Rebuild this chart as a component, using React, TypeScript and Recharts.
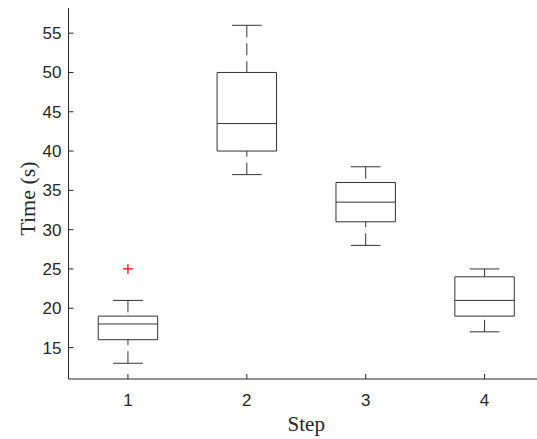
import React from 'react';
import {
  ComposedChart,
  XAxis,
  YAxis,
  Scatter,
  ReferenceArea,
  ReferenceLine,
} from 'recharts';

const steps = [1, 2, 3, 4];
const whiskerLow = [13, 37, 28, 17];
const q1 = [16, 40, 31, 19];
const medians = [18, 43.5, 33.5, 21];
const q3 = [19, 50, 36, 24];
const whiskerHigh = [21, 56, 38, 25];
const outlierSteps = [1];
const outlierTimes = [25];
const xTicks = [1, 2, 3, 4];
const yTicks = [15, 20, 25, 30, 35, 40, 45, 50, 55];

const outliers = outlierSteps.map((s, i) => ({ step: s, time: outlierTimes[i] }));

const AXIS = '#262626';
const LINE = '#333333';
const BOX_HALF = 0.25;
const CAP_HALF = 0.125;
const DASH = '12 6';

const BottomTick = (props: any) => {
  const { x, y, payload } = props;
  return (
    <g>
      <line x1={x} y1={y} x2={x} y2={y - 5} stroke={AXIS} strokeWidth={1} />
      <text x={x} y={y + 27} textAnchor="middle" fill={AXIS} fontSize={17} fontFamily="Liberation Sans, Arial, sans-serif">
        {payload.value}
      </text>
    </g>
  );
};

const TopTick = (props: any) => {
  const { x, y } = props;
  return <line x1={x} y1={y} x2={x} y2={y + 5} stroke={AXIS} strokeWidth={1} />;
};

const LeftTick = (props: any) => {
  const { x, y, payload } = props;
  return (
    <g>
      <line x1={x} y1={y} x2={x + 5} y2={y} stroke={AXIS} strokeWidth={1} />
      <text x={x - 7} y={y + 6} textAnchor="end" fill={AXIS} fontSize={17} fontFamily="Liberation Sans, Arial, sans-serif">
        {payload.value}
      </text>
    </g>
  );
};

const PlusShape = (props: any) => {
  const { cx, cy } = props;
  return (
    <path
      d={`M${cx - 5},${cy} L${cx + 5},${cy} M${cx},${cy - 5} L${cx},${cy + 5}`}
      stroke="#ff0000"
      strokeWidth={1.2}
      fill="none"
    />
  );
};

const YLabel = (props: any) => {
  const vb = props.viewBox || { x: 0, y: 8, width: 68.5, height: 371 };
  const cx = 27;
  const cy = vb.y + vb.height / 2 + 5;
  return (
    <text
      x={cx}
      y={cy}
      transform={`rotate(-90, ${cx}, ${cy})`}
      textAnchor="middle"
      dominantBaseline="central"
      fill={AXIS}
      fontSize={22}
      fontFamily="Liberation Serif, Times New Roman, serif"
    >
      Time (s)
    </text>
  );
};

const XLabel = (props: any) => {
  const vb = props.viewBox || { x: 68.5, y: 379, width: 475.5, height: 60 };
  return (
    <text
      x={vb.x + vb.width / 2}
      y={vb.y + 52}
      textAnchor="middle"
      fill={AXIS}
      fontSize={21}
      fontFamily="Liberation Serif, Times New Roman, serif"
    >
      Step
    </text>
  );
};

export default function App() {
  return (
    <div style={{ position: 'absolute', left: 0, top: 0, width: 537, height: 439, overflow: 'hidden', background: '#fff' }}>
      <ComposedChart
        width={560}
        height={439}
        data={outliers}
        margin={{ top: 8, right: 16, bottom: 0, left: 0 }}
      >
        <XAxis
          xAxisId="top"
          orientation="top"
          type="number"
          dataKey="step"
          domain={[0.5, 4.5]}
          ticks={xTicks}
          allowDataOverflow
          height={0}
          tickSize={0}
          tickMargin={0}
          tickLine={false}
          axisLine={{ stroke: AXIS }}
          tick={<TopTick />}
        />
        <XAxis
          xAxisId="b"
          type="number"
          dataKey="step"
          domain={[0.5, 4.5]}
          ticks={xTicks}
          allowDataOverflow
          height={60}
          tickSize={0}
          tickMargin={0}
          tickLine={false}
          axisLine={{ stroke: AXIS }}
          tick={<BottomTick />}
          label={<XLabel />}
        />
        <YAxis
          yAxisId="y"
          type="number"
          dataKey="time"
          domain={[11, 58.2]}
          ticks={yTicks}
          allowDataOverflow
          width={68.5}
          tickSize={0}
          tickMargin={0}
          tickLine={false}
          axisLine={{ stroke: AXIS }}
          tick={<LeftTick />}
          label={<YLabel />}
        />
        {steps.map((s, i) => (
          <ReferenceLine
            key={`wh${s}`}
            xAxisId="b"
            yAxisId="y"
            segment={[{ x: s, y: whiskerHigh[i] }, { x: s, y: q3[i] }]}
            stroke={LINE}
            strokeDasharray={DASH}
          />
        ))}
        {steps.map((s, i) => (
          <ReferenceLine
            key={`wl${s}`}
            xAxisId="b"
            yAxisId="y"
            segment={[{ x: s, y: whiskerLow[i] }, { x: s, y: q1[i] }]}
            stroke={LINE}
            strokeDasharray={DASH}
          />
        ))}
        {steps.map((s, i) => (
          <ReferenceLine
            key={`ch${s}`}
            xAxisId="b"
            yAxisId="y"
            segment={[{ x: s - CAP_HALF, y: whiskerHigh[i] }, { x: s + CAP_HALF, y: whiskerHigh[i] }]}
            stroke={LINE}
          />
        ))}
        {steps.map((s, i) => (
          <ReferenceLine
            key={`cl${s}`}
            xAxisId="b"
            yAxisId="y"
            segment={[{ x: s - CAP_HALF, y: whiskerLow[i] }, { x: s + CAP_HALF, y: whiskerLow[i] }]}
            stroke={LINE}
          />
        ))}
        {steps.map((s, i) => (
          <ReferenceArea
            key={`box${s}`}
            xAxisId="b"
            yAxisId="y"
            x1={s - BOX_HALF}
            x2={s + BOX_HALF}
            y1={q1[i]}
            y2={q3[i]}
            fill="none"
            fillOpacity={0}
            stroke={LINE}
            strokeOpacity={1}
            strokeWidth={1}
          />
        ))}
        {steps.map((s, i) => (
          <ReferenceLine
            key={`med${s}`}
            xAxisId="b"
            yAxisId="y"
            segment={[{ x: s - BOX_HALF, y: medians[i] }, { x: s + BOX_HALF, y: medians[i] }]}
            stroke={LINE}
          />
        ))}
        <Scatter
          xAxisId="b"
          yAxisId="y"
          data={outliers}
          dataKey="time"
          shape={<PlusShape />}
          isAnimationActive={false}
        />
      </ComposedChart>
    </div>
  );
}
